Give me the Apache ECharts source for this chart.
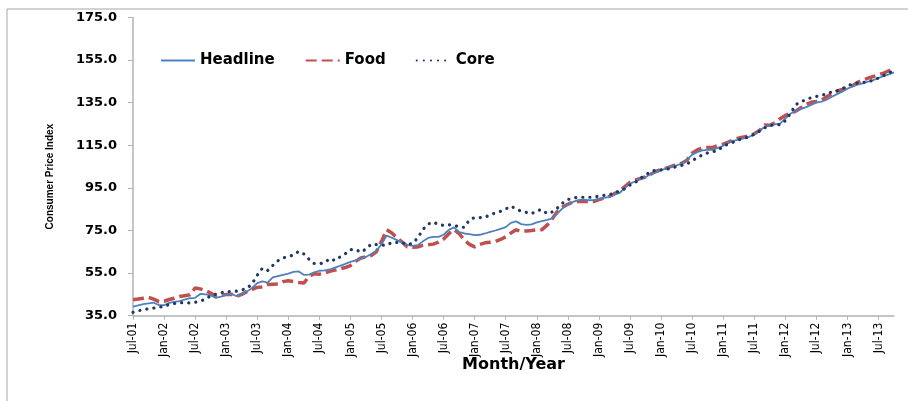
<!DOCTYPE html>
<html>
<head>
<meta charset="utf-8">
<script src="https://cdn.jsdelivr.net/npm/echarts@6/dist/echarts.min.js"></script>
<style>
  html, body { margin: 0; padding: 0; background: #ffffff; }
  #chart { width: 908px; height: 401px; }
</style>
</head>
<body>
<div id="chart"></div>
<script>
// Monthly index, July 2001 through October 2013
const monthNames = ['Jan', 'Feb', 'Mar', 'Apr', 'May', 'Jun', 'Jul', 'Aug', 'Sep', 'Oct', 'Nov', 'Dec'];
const firstMonth = 6;   // July
const firstYear = 2001;
const monthCount = 148;

const categories = [];
for (let i = 0; i < monthCount; i++) {
  const m = (firstMonth + i) % 12;
  const y = firstYear + Math.floor((firstMonth + i) / 12);
  categories.push(monthNames[m] + '-' + String(y % 100).padStart(2, '0'));
}

const headline = [
  39.3, 39.8, 40.4, 40.8, 41.1, 40.0, 39.9, 41.0, 41.5, 41.8, 42.6, 43.2,
  43.4, 45.2, 45.0, 44.5, 43.4, 44.0, 44.8, 45.2, 44.2, 45.0, 46.3, 48.0,
  50.3, 51.1, 50.5, 53.0, 53.6, 54.2, 54.8, 55.6, 55.8, 54.2, 54.3, 55.4,
  56.1, 56.3, 56.7, 57.6, 58.4, 59.3, 60.3, 61.0, 61.8, 62.6, 64.0, 65.5,
  68.5, 72.6, 71.6, 70.5, 69.4, 68.3, 67.8, 68.1, 69.9, 71.5, 72.0, 72.0,
  73.0, 75.3, 76.5, 74.3, 73.6, 73.3, 72.8, 73.0, 73.6, 74.4, 75.0, 75.8,
  76.6, 78.6, 79.3, 78.0, 77.6, 77.9, 78.8, 79.4, 80.0, 80.7, 83.0, 85.5,
  87.1, 88.4, 89.3, 89.5, 89.2, 89.3, 89.8, 90.3, 90.8, 91.8, 92.6, 95.0,
  97.0, 98.0, 99.5, 100.0, 101.5, 102.3, 103.3, 104.2, 105.1, 105.6, 106.4, 108.2,
  110.6, 111.8, 112.6, 112.9, 112.9, 113.8, 114.8, 116.5, 117.1, 117.7, 118.3, 119.0,
  120.0, 121.8, 123.6, 124.4, 124.8, 125.2, 127.5, 129.8, 131.2, 132.0, 132.9, 134.0,
  135.0, 135.5, 136.4, 137.8, 139.0, 140.2, 141.6, 142.6, 143.5, 144.1, 144.9, 145.6,
  146.6, 147.5, 148.3, 149.2
];

const food = [
  42.5, 42.8, 43.2, 43.6, 42.8, 41.6, 41.8, 42.6, 43.2, 44.0, 44.4, 44.8,
  48.0, 47.6, 46.8, 45.6, 44.2, 44.5, 45.0, 45.1, 44.0, 45.0, 46.3, 47.4,
  48.3, 48.5, 49.6, 49.8, 49.9, 51.0, 51.4, 51.0, 50.6, 50.3, 53.5, 54.7,
  54.5, 55.1, 55.8, 56.4, 57.0, 57.6, 58.5, 60.5, 62.1, 62.6, 63.2, 65.0,
  69.9, 75.4, 73.8, 71.5, 69.5, 67.3, 67.1, 67.3, 68.0, 68.3, 68.6, 69.5,
  71.0, 73.5, 75.4, 73.6, 70.5, 68.5, 67.3, 68.5, 69.2, 69.5, 69.8, 70.8,
  72.0, 73.8, 75.3, 74.6, 74.8, 75.0, 75.3, 75.4, 77.5, 80.5, 84.0, 86.0,
  87.3, 88.4, 88.6, 88.7, 88.5, 88.6, 89.5, 90.2, 91.0, 92.3, 93.5, 95.6,
  97.6, 98.6, 99.4, 100.1, 101.4, 102.7, 103.6, 104.3, 105.1, 106.0, 106.6, 108.0,
  111.3, 112.8, 113.8, 114.0, 114.0, 115.0, 115.5, 116.5, 117.6, 118.4, 118.9, 119.4,
  120.4, 121.9, 124.5, 124.4, 125.5, 127.5, 129.0, 130.0, 131.0, 132.6, 134.2, 135.2,
  135.6, 136.1, 137.8, 139.2, 140.5, 141.2, 142.0, 143.0, 144.6, 145.6, 146.5, 147.3,
  148.1, 148.9, 150.0, 151.0
];

const core = [
  36.6, 37.3, 37.8, 38.3, 38.6, 38.8, 39.6, 40.2, 40.7, 41.1, 41.1, 41.0,
  41.3, 41.9, 42.7, 44.4, 45.1, 45.8, 46.3, 46.4, 46.5, 47.1, 47.8, 50.0,
  54.0, 57.3, 56.2, 58.6, 60.8, 62.1, 62.8, 63.5, 65.2, 64.0, 61.5, 59.5,
  59.4, 59.8, 61.8, 60.9, 62.6, 64.1, 66.0, 66.1, 64.8, 66.3, 68.6, 68.4,
  68.2, 68.1, 69.4, 69.4, 69.4, 68.3, 69.0, 71.5, 75.5, 78.0, 79.0, 77.8,
  77.4, 77.7, 77.5, 76.6, 76.5, 80.0, 81.1, 81.0, 81.2, 82.4, 83.2, 84.0,
  85.1, 86.4, 85.2, 84.0, 83.5, 82.9, 84.3, 84.8, 82.9, 83.7, 85.6, 87.9,
  89.5, 90.3, 90.6, 90.6, 90.6, 90.6, 91.2, 91.5, 91.8, 92.6, 93.5, 94.6,
  96.3, 97.5, 99.5, 101.0, 102.7, 103.3, 103.5, 103.7, 104.3, 105.0, 105.6, 106.2,
  107.8, 109.2, 110.5, 111.4, 112.0, 112.6, 114.6, 115.6, 116.5, 117.6, 118.3, 118.9,
  120.2, 121.6, 123.2, 124.2, 124.7, 124.7, 126.5, 130.0, 134.0, 135.5, 136.3, 137.4,
  137.9, 138.4, 139.3, 140.0, 140.6, 141.5, 142.9, 143.8, 144.3, 144.5, 144.9, 145.5,
  146.6, 147.8, 149.0, 150.0
];

const yMin = 35;
const yMax = 175;
const yStep = 20;

const chart = echarts.init(document.getElementById('chart'), null, { renderer: 'canvas' });

const axisGray = '#b3b3b3';

chart.setOption({
  animation: false,
  backgroundColor: '#ffffff',
  graphic: [{
    type: 'rect',
    shape: { x: 7, y: 9, width: 940, height: 440 },
    style: { fill: 'none', stroke: '#a6a6a6', lineWidth: 1 },
    silent: true,
    z: -1
  }],
  grid: { left: 133, right: 14, top: 17.5, bottom: 85.3, containLabel: false },
  legend: {
    left: 160,
    top: 53,
    padding: 0,
    itemWidth: 34,
    itemHeight: 14,
    itemGap: 30,
    itemStyle: { opacity: 0 },
    textStyle: { fontFamily: 'DejaVu Sans', fontWeight: 'bold', fontSize: 15, color: '#000000' },
    data: ['Headline', 'Food', 'Core']
  },
  xAxis: {
    type: 'category',
    data: categories,
    boundaryGap: false,
    name: 'Month/Year',
    nameLocation: 'middle',
    nameMoveOverlap: false,
    nameGap: 41,
    nameTextStyle: { fontFamily: 'DejaVu Sans', fontWeight: 'bold', fontSize: 16, color: '#000000' },
    axisLine: { lineStyle: { color: axisGray, width: 1.5 } },
    axisTick: { show: true, interval: 5, length: 4, inside: false, lineStyle: { color: axisGray } },
    axisLabel: {
      interval: 5,
      rotate: 90,
      margin: 7,
      fontFamily: 'DejaVu Sans Condensed, sans-serif',
      fontSize: 12,
      color: '#000000'
    },
    splitLine: { show: false }
  },
  yAxis: {
    type: 'value',
    min: yMin,
    max: yMax,
    interval: yStep,
    name: 'Consumer Price Index',
    nameLocation: 'middle',
    nameMoveOverlap: false,
    nameGap: 78,
    nameRotate: 90,
    nameTextStyle: {
      fontFamily: 'Liberation Sans, Arial, sans-serif',
      fontWeight: 'bold',
      fontSize: 10,
      color: '#000000',
      padding: [0, 20, 0, 0]
    },
    axisLine: { show: true, lineStyle: { color: axisGray, width: 1.5 } },
    axisTick: { show: true, length: 5, lineStyle: { color: axisGray } },
    axisLabel: {
      margin: 16,
      fontFamily: 'DejaVu Sans',
      fontWeight: 'bold',
      fontSize: 13,
      color: '#000000',
      formatter: v => v.toFixed(1)
    },
    splitLine: { show: false }
  },
  series: [
    {
      name: 'Headline',
      type: 'line',
      data: headline,
      showSymbol: false,
      symbol: 'none',
      color: '#4f81bd',
      lineStyle: { color: '#4f81bd', width: 1.8 },
      z: 3
    },
    {
      name: 'Food',
      type: 'line',
      data: food,
      showSymbol: false,
      symbol: 'none',
      color: '#c0504d',
      lineStyle: { color: '#c0504d', width: 3.5, type: [11, 5] },
      z: 2
    },
    {
      name: 'Core',
      type: 'line',
      data: core,
      showSymbol: false,
      symbol: 'none',
      color: '#1f3864',
      lineStyle: { color: '#1f3864', width: 3.2, type: [0.1, 7], cap: 'round' },
      z: 4
    }
  ]
});
</script>
</body>
</html>
